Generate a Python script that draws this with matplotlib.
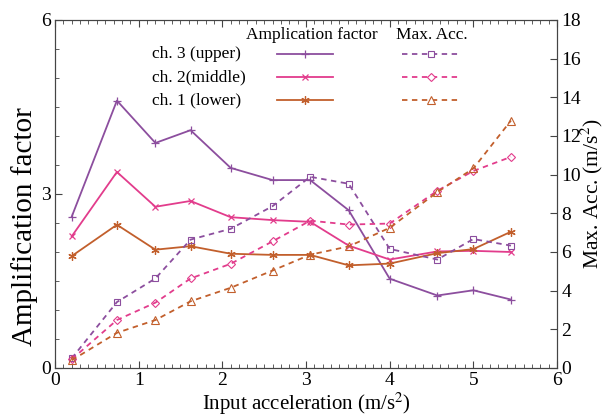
import matplotlib.pyplot as plt
from matplotlib.ticker import MultipleLocator

plt.rcParams['font.family'] = ['Liberation Serif', 'DejaVu Serif']
plt.rcParams['mathtext.fontset'] = 'stix'

x = [0.2, 0.74, 1.2, 1.62, 2.1, 2.6, 3.05, 3.51, 4.0, 4.57, 5.0, 5.45]

# amplification factor (left axis)
amp_ch3 = [2.61, 4.61, 3.88, 4.10, 3.45, 3.24, 3.24, 2.72, 1.54, 1.25, 1.34, 1.18]
amp_ch2 = [2.27, 3.38, 2.78, 2.88, 2.60, 2.55, 2.52, 2.11, 1.87, 2.01, 2.02, 2.00]
amp_ch1 = [1.93, 2.47, 2.04, 2.10, 1.97, 1.95, 1.95, 1.77, 1.80, 1.98, 2.05, 2.35]

# max acceleration (right axis)
acc_ch3 = [0.5, 3.41, 4.63, 6.64, 7.20, 8.37, 9.89, 9.53, 6.16, 5.61, 6.67, 6.33]
acc_ch2 = [0.45, 2.48, 3.38, 4.63, 5.39, 6.55, 7.62, 7.42, 7.47, 9.17, 10.19, 10.92]
acc_ch1 = [0.4, 1.82, 2.48, 3.45, 4.15, 5.04, 5.86, 6.29, 7.25, 9.10, 10.32, 12.8]

labels = ["ch. 3 (upper)", "ch. 2(middle)", "ch. 1 (lower)"]
c3 = "#8c4e9e"
c2 = "#e23c8c"
c1 = "#c25f2c"

fig = plt.figure(figsize=(6.04, 4.18), dpi=100)
ax = fig.add_axes([55/604, 50/418, 502/604, 348/418])
ax2 = ax.twinx()

lw = 1.3
ax.plot(x, amp_ch3, color=c3, lw=lw, marker='+', ms=6, mew=0.9)
ax.plot(x, amp_ch2, color=c2, lw=lw, marker='x', ms=5, mew=0.9)
ax.plot(x, amp_ch1, color=c1, lw=lw, marker=(6, 2, 0), ms=6, mew=0.9)

ax2.plot(x, acc_ch3, color=c3, lw=lw, ls=(0, (3, 2.5)), marker='s', ms=5, mfc='none', mew=0.8)
ax2.plot(x, acc_ch2, color=c2, lw=lw, ls=(0, (3, 2.5)), marker='D', ms=4, mfc='none', mew=0.8)
ax2.plot(x, acc_ch1, color=c1, lw=lw, ls=(0, (3, 2.5)), marker='^', ms=6, mfc='none', mew=0.8)

ax.set_xlim(0, 6)
ax.set_ylim(0, 6)
ax2.set_ylim(0, 18)
ax.xaxis.set_major_locator(MultipleLocator(1))
ax.xaxis.set_minor_locator(MultipleLocator(0.1))
ax.yaxis.set_major_locator(MultipleLocator(3))
ax.yaxis.set_minor_locator(MultipleLocator(0.5))
ax2.yaxis.set_major_locator(MultipleLocator(2))

ax.tick_params(which='both', direction='in', top=True, labelsize=14, color='#444444', pad=3)
ax.tick_params(which='major', length=5)
ax.tick_params(which='minor', length=3)
ax2.tick_params(direction='in', labelsize=14, length=5, color='#444444', pad=3)
for a in (ax, ax2):
    for s in a.spines.values():
        s.set_color('#444444')

ax.set_xlabel("Input acceleration (m/s$^2$)", fontsize=15)
ax.set_ylabel("Amplification factor", fontsize=21)
ax2.set_ylabel("Max. Acc. (m/s$^2$)", fontsize=15.5)
ax.xaxis.set_label_coords(0.5, -0.066)
ax.yaxis.set_label_coords(-0.034, 0.405)
ax2.yaxis.set_label_coords(1.044, 0.5)

# legend drawn as a small table
fs = 12.5
fig.text(312/604, 1 - 35/418, "Amplication factor", ha='center', va='center', fontsize=fs)
fig.text(432/604, 1 - 35/418, "Max. Acc.", ha='center', va='center', fontsize=fs)
rows_y = [54, 77, 100]
styles = [(c3, '+', 's', 6, 5), (c2, 'x', 'D', 5, 4), (c1, (6, 2, 0), '^', 6, 6)]
for lab, yy, (c, m1, m2, s1, s2) in zip(labels, rows_y, styles):
    yf = 1 - yy / 418
    fig.text(152/604, yf, lab, ha='left', va='center', fontsize=fs)
    fig.add_artist(plt.Line2D([277/604, 333/604], [yf, yf], color=c, lw=lw, transform=fig.transFigure))
    fig.add_artist(plt.Line2D([305/604], [yf], color=c, marker=m1, ms=s1, mew=0.9, transform=fig.transFigure))
    fig.add_artist(plt.Line2D([402/604, 460/604], [yf, yf], color=c, lw=lw, ls=(0, (3, 2.5)), transform=fig.transFigure))
    fig.add_artist(plt.Line2D([431/604], [yf], color=c, marker=m2, ms=s2, mfc='white', mew=0.8, transform=fig.transFigure))

fig.savefig("out.png", dpi=100)
